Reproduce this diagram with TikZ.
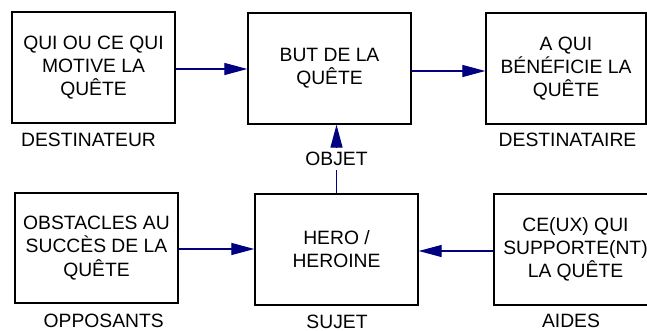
\documentclass[tikz,border=0pt]{standalone}
\usepackage{fontspec}
\setmainfont{Liberation Sans}
\usetikzlibrary{arrows.meta}
\definecolor{arrownavy}{RGB}{0,0,128}
\begin{document}
\begin{tikzpicture}[x=1pt,y=-1pt,
  box/.style={draw=black, line width=1.4pt, minimum width=163pt, minimum height=111pt,
    align=center, inner sep=0pt, font=\fontsize{19.3}{23.2}\selectfont},
  lbl/.style={inner sep=0pt, font=\fontsize{19.3}{23.2}\selectfont},
  conn/.style={draw=arrownavy, line width=1.3pt, -{Triangle[length=23pt,width=12pt]}}]
\useasboundingbox (0,0) rectangle (647,331);
\clip (0,0) rectangle (647,331);
\fill[white] (0,0) rectangle (647,331);
\node[box] (dest) at (93.5,67.5) {QUI OU CE QUI\\MOTIVE LA\\QUÊTE};
\node[box] (but) at (329.5,68.5) {BUT DE LA\\QUÊTE};
\node[box, minimum width=160pt] (dire) at (566,68.5) {A QUI\\BÉNÉFICIE LA\\QUÊTE};
\node[box, minimum height=110pt] (opp) at (96.5,248) {OBSTACLES AU\\SUCCÈS DE LA\\QUÊTE};
\node[box] (hero) at (336.5,249.5) {HERO /\\HEROINE};
\node[box] (aide) at (575.5,249.5) {CE(UX) QUI\\SUPPORTE(NT)\\LA QUÊTE};
\node[lbl] (ldest) at (88.5,139.5) {DESTINATEUR};
\node[lbl] (ldire) at (567.5,140) {DESTINATAIRE};
\node[lbl] (lopp) at (103.7,321) {OPPOSANTS};
\node[lbl] (lsuj) at (337,321.5) {SUJET};
\node[lbl] (laide) at (571,321) {AIDES};
\draw[conn] (dest.east |- 0,69) -- (but.west |- 0,69);
\draw[conn] (but.east |- 0,71) -- (dire.west |- 0,71);
\draw[conn] (opp.east |- 0,249) -- (hero.west |- 0,249);
\draw[conn] (aide.west |- 0,251) -- (hero.east |- 0,251);
\draw[conn] (hero.north) -- (hero.north |- but.south)
  node[pos=0.5, fill=white, inner xsep=2pt, inner ysep=4pt, font=\fontsize{19.3}{23.2}\selectfont] (lobj) {OBJET};
\end{tikzpicture}
\end{document}
